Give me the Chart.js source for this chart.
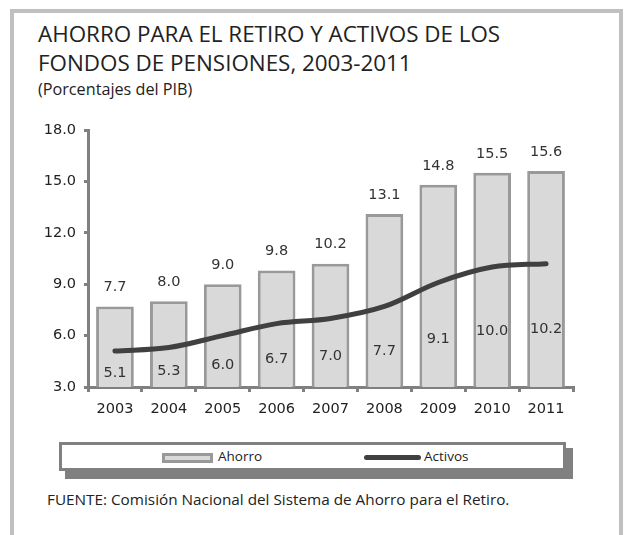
<!DOCTYPE html>
<html>
<head>
<meta charset="utf-8">
<script src="https://cdn.jsdelivr.net/npm/chart.js@4"></script>
<style>
  body { margin:0; background:#fff; width:626px; height:535px; overflow:hidden; position:relative; font-family:"Open Sans", sans-serif; }
  #frame { position:absolute; left:10px; top:9px; width:613px; height:540px; border:4px solid #c0c0c0; box-sizing:border-box; }
  .t { position:absolute; left:38px; color:#222; white-space:nowrap; }
  #t1 { top:18px; font-size:22.4px; }
  #t2 { top:47px; font-size:22.4px; }
  #t3 { top:78px; font-size:16.2px; }
  #wrap { position:absolute; left:0; top:100px; width:626px; height:330px; }
  #shadow { position:absolute; left:65px; top:448px; width:508px; height:31px; background:#808080; }
  #legend { position:absolute; left:59px; top:442px; width:507px; height:29px; background:#fff; border:3px solid #808080; box-sizing:border-box; font-size:13.5px; color:#222; }
  .sw1 { position:absolute; left:100px; top:8px; width:51px; height:10px; background:#d9d9d9; border:3px solid #999; box-sizing:border-box; }
  .lb1 { position:absolute; left:156px; top:2px; }
  .sw2 { position:absolute; left:302px; top:10px; width:57px; height:5px; background:#404040; border-radius:3px; }
  .lb2 { position:absolute; left:362px; top:2px; }
  #src { position:absolute; left:47px; top:489px; font-size:15.3px; color:#222; white-space:nowrap; }
</style>
</head>
<body>
<div id="frame"></div>
<div class="t" id="t1">AHORRO PARA EL RETIRO Y ACTIVOS DE LOS</div>
<div class="t" id="t2">FONDOS DE PENSIONES, 2003-2011</div>
<div class="t" id="t3">(Porcentajes del PIB)</div>
<div id="wrap"><canvas id="myChart" width="626" height="330"></canvas></div>
<div id="shadow"></div>
<div id="legend">
  <div class="sw1"></div><span class="lb1">Ahorro</span>
  <div class="sw2"></div><span class="lb2">Activos</span>
</div>
<div id="src">FUENTE: Comisión Nacional del Sistema de Ahorro para el Retiro.</div>

<script>
var years = ['2003','2004','2005','2006','2007','2008','2009','2010','2011'];
var ahorro = [7.7, 8.0, 9.0, 9.8, 10.2, 13.1, 14.8, 15.5, 15.6];
var activos = [5.1, 5.3, 6.0, 6.7, 7.0, 7.7, 9.1, 10.0, 10.2];
var yMin = 3, yMax = 18, yStep = 3;

// draws the value labels over bars and under the line
var valueLabels = {
  id: 'valueLabels',
  afterDatasetsDraw: function(chart) {
    var c = chart.ctx;
    var base = chart.scales.y.bottom;
    c.save();
    c.font = '14.5px "DejaVu Sans"';
    c.fillStyle = '#333';
    c.textAlign = 'center';
    c.textBaseline = 'middle';
    chart.getDatasetMeta(1).data.forEach(function(bar, i) {
      c.fillText(ahorro[i].toFixed(1), bar.x, bar.y - 19);
    });
    chart.getDatasetMeta(0).data.forEach(function(pt, i) {
      var y = pt.y + (base - pt.y) * 0.5 + 4;
      c.fillText(activos[i].toFixed(1), pt.x, y);
    });
    c.restore();
  }
};

const ctx = document.getElementById('myChart');

const chart = new Chart(ctx, {
  data: {
    labels: years,
    datasets: [{
      type: 'line',
      label: 'Activos',
      data: activos,
      borderColor: '#404040',
      borderWidth: 5,
      borderCapStyle: 'round',
      tension: 0.35,
      pointRadius: 0,
      order: 0
    }, {
      type: 'bar',
      label: 'Ahorro',
      data: ahorro,
      backgroundColor: '#d9d9d9',
      borderColor: '#999999',
      borderWidth: 3,
      categoryPercentage: 1,
      barPercentage: 0.7,
      order: 1
    }]
  },
  options: {
    responsive: false,
    animation: false,
    layout: { padding: { left: 0, right: 53, top: 30, bottom: 0 } },
    plugins: { legend: { display: false }, tooltip: { enabled: false } },
    scales: {
      x: {
        offset: true,
        grid: { drawOnChartArea: false, drawTicks: true, tickLength: 5, color: '#808080', lineWidth: 3, offset: true },
        border: { color: '#808080', width: 3 },
        ticks: { color: '#222', font: { family: 'DejaVu Sans', size: 14.5 }, padding: 9 },
        afterFit: function(s) { s.height = 43; }
      },
      y: {
        min: yMin, max: yMax,
        grid: { drawOnChartArea: false, drawTicks: true, tickLength: 4, color: '#808080', lineWidth: 3 },
        border: { color: '#808080', width: 3 },
        ticks: { stepSize: yStep, color: '#222', font: { family: 'DejaVu Sans', size: 14.5 }, padding: 8,
          callback: function(v) { return v.toFixed(1); } },
        afterFit: function(s) { s.width = 88; }
      }
    }
  },
  plugins: [valueLabels]
});
</script>
</body>
</html>
